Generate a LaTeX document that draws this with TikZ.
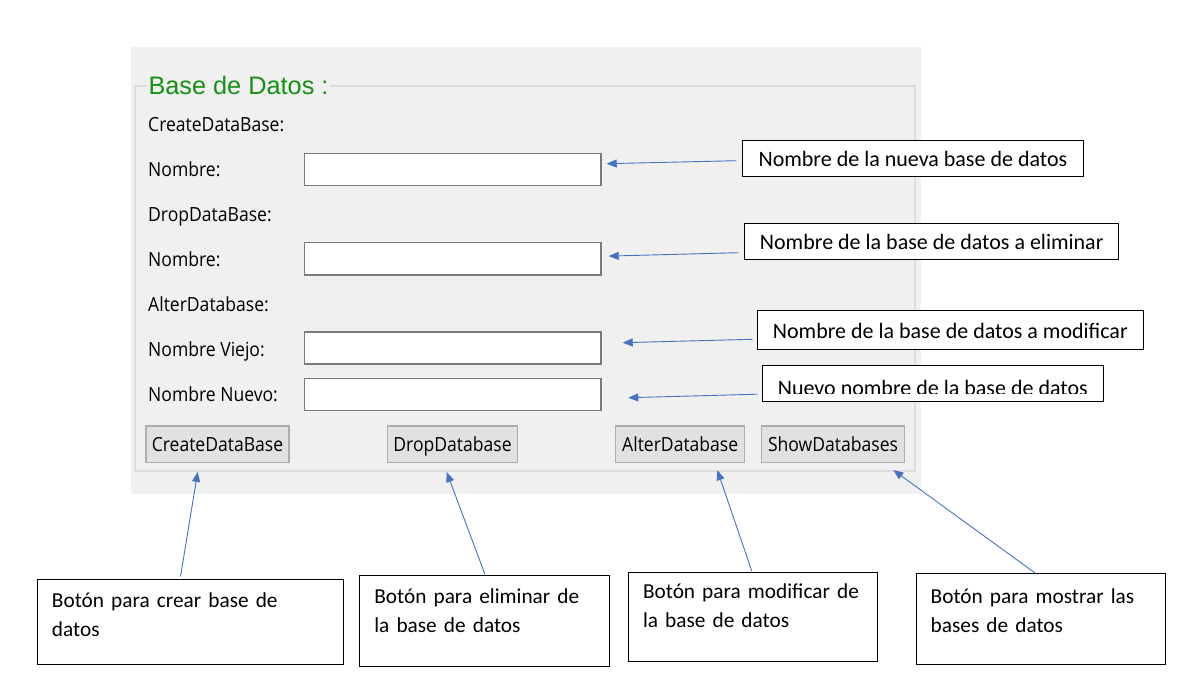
\documentclass[tikz,border=0pt]{standalone}
\usepackage{fontspec}
\setmainfont{Carlito}
\newfontfamily\guifont[FakeStretch=0.9]{Open Sans}
\newfontfamily\titlefont{Liberation Sans}
\usepackage{tikz}
\usetikzlibrary{arrows.meta}
\usetikzlibrary{positioning}
\usetikzlibrary{calc}
\definecolor{PanelColor}{RGB}{240,240,240}
\definecolor{GroupColor}{RGB}{220,220,220}
\definecolor{FieldColor}{RGB}{122,122,122}
\definecolor{ButtonFill}{RGB}{225,225,225}
\definecolor{ButtonColor}{RGB}{173,173,173}
\definecolor{TitleColor}{RGB}{20,145,20}
\definecolor{ArrowColor}{RGB}{68,114,196}
\tikzstyle{etiqueta} = [anchor=base west, inner sep=0pt, font=\guifont\fontsize{19.5}{22}\selectfont]
\tikzstyle{campo} = [draw=FieldColor, fill=white, line width=1.5pt, minimum width=296.5pt, minimum height=32.4pt, inner sep=0pt]
\tikzstyle{boton} = [draw=ButtonColor, fill=ButtonFill, line width=1.5pt, minimum height=36.3pt, inner sep=0pt, text height=15.4pt, text depth=0pt, font=\guifont\fontsize{19.5}{22}\selectfont]
\tikzstyle{nota} = [draw=black, line width=1pt, fill=white, inner sep=0pt, text height=16pt, text depth=0pt, font=\fontsize{22}{26}\selectfont]
\tikzstyle{notatexto} = [anchor=base west, inner sep=0pt, text width=300pt, align=left, font=\fontsize{21.3}{29}\selectfont]
\tikzstyle{flecha} = [ArrowColor, line width=0.9pt, -{Triangle[length=10pt,width=8pt]}]

\begin{document}
\begin{tikzpicture}[x=1pt,y=-1pt]
    \useasboundingbox (0,0) rectangle (1204,677);

    % ventana
    \fill[PanelColor] (131,47) rectangle (921,494);
    \draw[GroupColor, line width=1.5pt] (135,86) rectangle (915,471);
    \node[anchor=base west, inner xsep=1.5pt, inner ysep=1pt, fill=PanelColor, text=TitleColor,
          font=\titlefont\fontsize{25.3}{28}\selectfont] (titulo) at (146.8,94.3) {Base de Datos :};

    \foreach \texto/\y [count=\i] in {CreateDataBase:/131.5, Nombre:/176.5, DropDataBase:/221.5, Nombre:/266.5,
                                      AlterDatabase:/311, Nombre Viejo:/356, Nombre Nuevo:/401.5} {
        \node[etiqueta] (etiqueta\i) at (148,\y) {\texto};
    }

    \foreach \n/\y in {1/169.5, 2/258.6, 3/348, 4/394.5} {
        \node[campo] (campo\n) at (452.7,\y) {};
    }

    \node[boton, minimum width=143pt] (btnCrear) at (217.5,444.2) {CreateDataBase};
    \node[boton, minimum width=130pt] (btnDrop) at (452.5,444.2) {DropDatabase};
    \node[boton, minimum width=129pt] (btnAlter) at (680.2,444.2) {AlterDatabase};
    \node[boton, minimum width=143.4pt] (btnShow) at (833,444.2) {ShowDatabases};

    % notas de la derecha
    \node[nota, minimum width=340.2pt, minimum height=35.3pt, text depth=-6pt] (nota1) at (912.9,158.4) {Nombre de la nueva base de datos};
    \node[nota, minimum width=374.2pt, minimum height=35.6pt, text depth=-6pt] (nota2) at (931.7,241.5) {Nombre de la base de datos a eliminar};
    \node[nota, minimum width=386pt, minimum height=38.6pt] (nota3) at (950.3,330) {Nombre de la base de datos a modificar};
    \node[nota, minimum width=341pt, minimum height=35.3pt] (nota4) at (932.8,383.4) {};
    \begin{scope}
        \clip (nota4.north west) rectangle ($(nota4.south east)+(0,-8)$);
        \node[anchor=base, inner sep=0pt, font=\fontsize{22}{26}\selectfont] (texto4) at ($(nota4.center)+(0,12.5)$) {Nuevo nombre de la base de datos};
    \end{scope}

    \draw[flecha] ($(nota1.west)+(-6,2.3)$) -- ($(campo1.east)+(5,-5.8)$);
    \draw[flecha] ($(nota2.west)+(-5.8,11.2)$) -- ($(campo2.east)+(7,-2.5)$);
    \draw[flecha] ($(nota3.west)+(-4.5,9.3)$) -- ($(campo3.east)+(21,-5.3)$);
    \draw[flecha] ($(nota4.west)+(-4.3,10.8)$) -- ($(campo4.east)+(26.6,3.2)$);

    % cajas de abajo
    \node[draw, line width=1pt, minimum width=306.7pt, minimum height=85pt] (caja1) at (190.6,621.8) {};
    \node[draw, line width=1pt, minimum width=249.5pt, minimum height=90.7pt] (caja2) at (484.4,621.3) {};
    \node[draw, line width=1pt, minimum width=249pt, minimum height=89.3pt] (caja3) at (752.8,617.3) {};
    \node[draw, line width=1pt, minimum width=249pt, minimum height=90.7pt] (caja4) at (1040.5,619.3) {};

    \node[notatexto] (textoCaja1) at ($(caja1.north west)+(15,28.4)$) {Botón para crear base de\\datos};
    \node[notatexto] (textoCaja2) at ($(caja2.north west)+(15,28)$) {Botón para eliminar de\\la base de datos};
    \node[notatexto] (textoCaja3) at ($(caja3.north west)+(15,26.7)$) {Botón para modificar de\\la base de datos};
    \node[notatexto] (textoCaja4) at ($(caja4.north west)+(15,30)$) {Botón para mostrar las\\bases de datos};

    \draw[flecha] ($(caja1.north)+(-10.1,-2.3)$) -- ($(btnCrear.south)+(-19.8,8.8)$);
    \draw[flecha] ($(caja2.north)+(0.6,-1)$) -- ($(btnDrop.south)+(-5.8,9)$);
    \draw[flecha] ($(caja3.north)+(-1,-1)$) -- ($(btnAlter.south)+(37.1,7.1)$);
    \draw[flecha] ($(caja4.north)+(-4.8,0)$) -- ($(btnShow.south)+(60.3,7)$);
\end{tikzpicture}
\end{document}
